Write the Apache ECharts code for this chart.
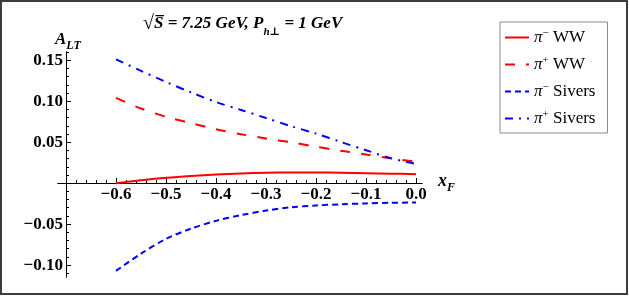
<!DOCTYPE html>
<html>
<head>
<meta charset="utf-8">
<script src="https://cdn.jsdelivr.net/npm/echarts@6/dist/echarts.min.js"></script>
<style>
html,body{margin:0;padding:0;background:#fff;}
#chart{width:629px;height:297px;}
</style>
</head>
<body>
<div id="chart"></div>
<script>
// ---- data ----
const xF = [-0.6, -0.55, -0.5, -0.45, -0.4, -0.35, -0.3, -0.25, -0.2, -0.15, -0.1, -0.05, 0.0];
const piMinusWW = [0, 0.0035, 0.0065, 0.0088, 0.0106, 0.0119, 0.0127, 0.013, 0.013, 0.0127, 0.0122, 0.0116, 0.011];
const piPlusWW = [0.104, 0.091, 0.081, 0.0732, 0.0657, 0.0597, 0.0545, 0.0498, 0.0445, 0.0395, 0.035, 0.0303, 0.026];
const piMinusSivers = [-0.107, -0.086, -0.068, -0.0555, -0.046, -0.039, -0.0335, -0.0295, -0.0272, -0.0258, -0.0247, -0.024, -0.0236];
const piPlusSivers = [0.151, 0.137, 0.1235, 0.1107, 0.099, 0.0893, 0.0795, 0.0695, 0.0605, 0.0502, 0.0402, 0.0303, 0.0235];
const seriesNames = ['π⁻ WW', 'π⁺ WW', 'π⁻ Sivers', 'π⁺ Sivers'];

const xMajorTicks = [-0.7, -0.6, -0.5, -0.4, -0.3, -0.2, -0.1, 0.0];
const xLabelTicks = [-0.6, -0.5, -0.4, -0.3, -0.2, -0.1, 0.0];
const xMinorTicks = [-0.68, -0.66, -0.64, -0.62, -0.58, -0.56, -0.54, -0.52, -0.48, -0.46, -0.44, -0.42,
  -0.38, -0.36, -0.34, -0.32, -0.28, -0.26, -0.24, -0.22, -0.18, -0.16, -0.14, -0.12,
  -0.08, -0.06, -0.04, -0.02];
const yMajorTicks = [-0.1, -0.05, 0.05, 0.1, 0.15];
const yMinorTicks = [-0.11, -0.09, -0.08, -0.07, -0.06, -0.04, -0.03, -0.02, -0.01,
  0.01, 0.02, 0.03, 0.04, 0.06, 0.07, 0.08, 0.09, 0.11, 0.12, 0.13, 0.14, 0.16];

// ---- chart ----
const serif = '"Liberation Serif", "DejaVu Serif", serif';
const pairs = ys => xF.map((x, i) => [x, ys[i]]);
const fmtMinus = s => s.replace('-', '\u2212');

const chart = echarts.init(document.getElementById('chart'), null, {renderer: 'canvas'});

const yMin = -0.1145, yMax = 0.16, gridTop = 52, gridBottom = 20, gridH = 297 - gridTop - gridBottom;
// x-axis is drawn at y = 0: shift it up from the grid bottom by the height of the negative part
const xAxisOffset = -Math.round(gridH * (0 - yMin) / (yMax - yMin));

const xAxisBase = {
  type: 'value', min: -0.716, max: 0.012, position: 'bottom', offset: xAxisOffset,
  axisLine: {onZero: false, lineStyle: {color: '#000', width: 1}},
  splitLine: {show: false}
};
const yAxisBase = {
  type: 'value', min: yMin, max: yMax, offset: -8, position: 'left',
  axisLine: {show: true, onZero: false, lineStyle: {color: '#000', width: 1}},
  splitLine: {show: false}
};

chart.setOption({
  animation: false,
  backgroundColor: '#fff',
  grid: {left: 58, right: 207, top: gridTop, bottom: gridBottom, containLabel: false},
  xAxis: [
    Object.assign({}, xAxisBase, {
      axisTick: {show: true, inside: true, length: 5, customValues: xMajorTicks, lineStyle: {color: '#000'}},
      axisLabel: {show: true, customValues: xLabelTicks, margin: 3,
        formatter: v => fmtMinus(Number(v).toFixed(1)),
        fontFamily: serif, fontWeight: 'bold', fontSize: 17, color: '#000'}
    }),
    Object.assign({}, xAxisBase, {
      axisTick: {show: true, inside: true, length: 3, customValues: xMinorTicks, lineStyle: {color: '#000'}},
      axisLabel: {show: false}
    })
  ],
  yAxis: [
    Object.assign({}, yAxisBase, {
      axisTick: {show: true, inside: true, length: 5, customValues: yMajorTicks, lineStyle: {color: '#000'}},
      axisLabel: {show: true, customValues: yMajorTicks, margin: 3,
        formatter: v => fmtMinus(Number(v).toFixed(2)),
        fontFamily: serif, fontWeight: 'bold', fontSize: 17, color: '#000'}
    }),
    Object.assign({}, yAxisBase, {
      axisTick: {show: true, inside: true, length: 3, customValues: yMinorTicks, lineStyle: {color: '#000'}},
      axisLabel: {show: false}
    })
  ],
  legend: {
    orient: 'vertical', left: 500, top: 22,
    padding: [6, 12, 6, 4], itemGap: 9, itemWidth: 24, itemHeight: 18,
    borderColor: '#8a8a8a', borderWidth: 1,
    itemStyle: {opacity: 0},
    data: seriesNames,
    formatter: name => {
      const sup = name.indexOf('⁻') >= 0 ? '−' : '+';
      const rest = name.split(' ').slice(1).join(' ');
      return '{p|π}{sup|' + sup + '}{t| ' + rest + '}';
    },
    textStyle: {
      fontFamily: serif, fontSize: 17, color: '#000',
      rich: {
        p: {fontFamily: serif, fontSize: 17, fontStyle: 'italic'},
        sup: {fontFamily: serif, fontSize: 11, verticalAlign: 'bottom', padding: [0, 0, 8, 0]},
        t: {fontFamily: serif, fontSize: 17}
      }
    }
  },
  title: [
    {
      text: '{r|√}{s|S̅}{t| = 7.25 GeV, P}{sub|h⊥}{t| = 1 GeV}',
      left: 138, top: 9,
      textStyle: {
        rich: {
          r: {fontFamily: serif, fontSize: 20, fontWeight: 'normal', color: '#000'},
          s: {fontFamily: serif, fontSize: 17, fontWeight: 'bold', fontStyle: 'italic', color: '#000'},
          t: {fontFamily: serif, fontSize: 17, fontWeight: 'bold', fontStyle: 'italic', color: '#000'},
          sub: {fontFamily: serif, fontSize: 11, fontWeight: 'bold', fontStyle: 'italic', color: '#000', verticalAlign: 'bottom', padding: [0, 0, -4, 0]}
        }
      }
    },
    {
      text: '{a|A}{sub|LT}',
      left: 50, top: 26,
      textStyle: {
        rich: {
          a: {fontFamily: serif, fontSize: 17, fontWeight: 'bold', fontStyle: 'italic', color: '#000'},
          sub: {fontFamily: serif, fontSize: 12, fontWeight: 'bold', fontStyle: 'italic', color: '#000', verticalAlign: 'bottom', padding: [0, 0, -4, 0]}
        }
      }
    },
    {
      text: '{a|x}{sub|F}',
      left: 433, top: 167,
      textStyle: {
        rich: {
          a: {fontFamily: serif, fontSize: 18, fontWeight: 'bold', fontStyle: 'italic', color: '#000'},
          sub: {fontFamily: serif, fontSize: 12, fontWeight: 'bold', fontStyle: 'italic', color: '#000', verticalAlign: 'bottom', padding: [0, 0, -4, 0]}
        }
      }
    }
  ],
  graphic: [{
    type: 'rect', silent: true, z: 100,
    shape: {x: 1, y: 1, width: 626, height: 293},
    style: {fill: 'none', stroke: '#3c3c3c', lineWidth: 2}
  }],
  series: [
    {name: seriesNames[0], type: 'line', data: pairs(piMinusWW), smooth: 0.3, symbol: 'none',
      lineStyle: {color: '#ff0000', width: 2, type: 'solid'}, itemStyle: {color: '#ff0000'}},
    {name: seriesNames[1], type: 'line', data: pairs(piPlusWW), smooth: 0.3, symbol: 'none',
      lineStyle: {color: '#ff0000', width: 2, type: [10, 11]}, itemStyle: {color: '#ff0000'}},
    {name: seriesNames[2], type: 'line', data: pairs(piMinusSivers), smooth: 0.3, symbol: 'none',
      lineStyle: {color: '#0000ff', width: 2, type: [6, 4]}, itemStyle: {color: '#0000ff'}},
    {name: seriesNames[3], type: 'line', data: pairs(piPlusSivers), smooth: 0.3, symbol: 'none',
      lineStyle: {color: '#0000ff', width: 2, type: [8, 6, 2, 6]}, itemStyle: {color: '#0000ff'}}
  ]
});
</script>
</body>
</html>
